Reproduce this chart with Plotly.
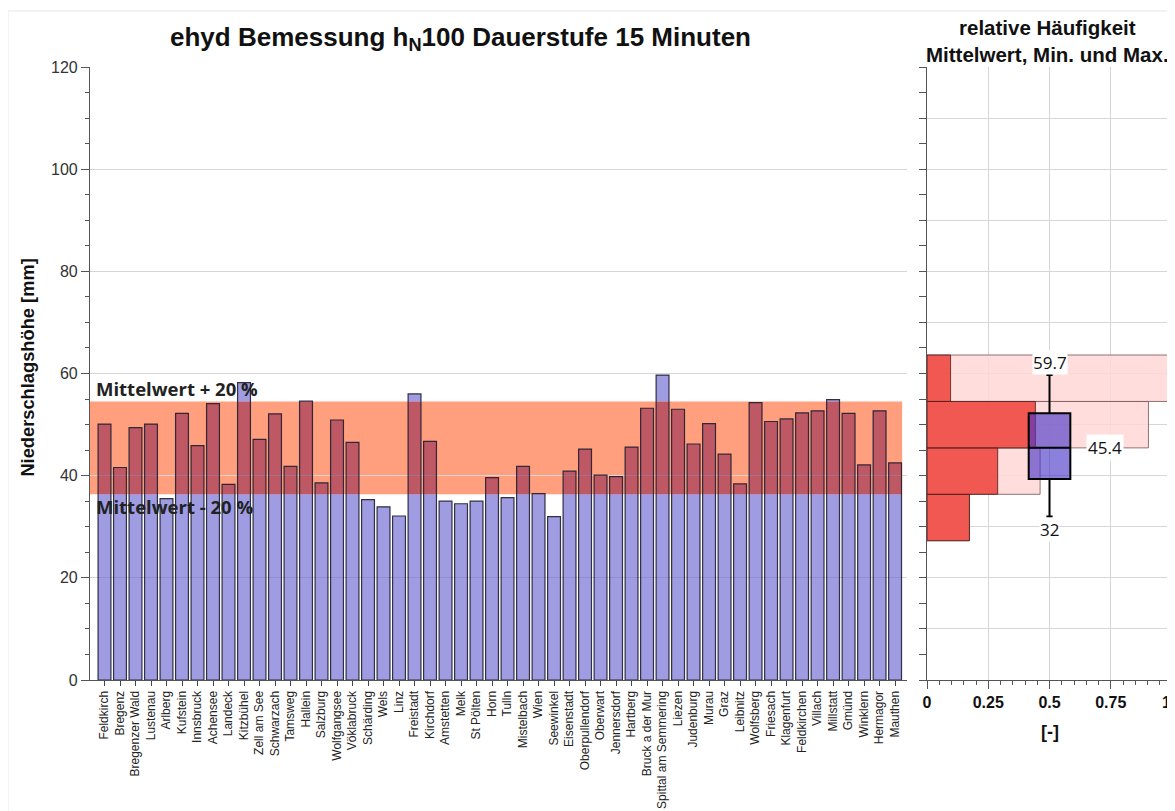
import numpy as np
import plotly.graph_objects as go

stations = ["Feldkirch", "Bregenz", "Bregenzer Wald", "Lustenau", "Arlberg", "Kufstein",
            "Innsbruck", "Achensee", "Landeck", "Kitzbühel", "Zell am See", "Schwarzach",
            "Tamsweg", "Hallein", "Salzburg", "Wolfgangsee", "Vöklabruck", "Schärding",
            "Wels", "Linz", "Freistadt", "Kirchdorf", "Amstetten", "Melk", "St Pölten",
            "Horn", "Tulln", "Mistelbach", "Wien", "Seewinkel", "Eisenstadt",
            "Oberpullendorf", "Oberwart", "Jennersdorf", "Hartberg", "Bruck a der Mur",
            "Spittal am Semmering", "Liezen", "Judenburg", "Murau", "Graz", "Leibnitz",
            "Wolfsberg", "Friesach", "Klagenfurt", "Feldkirchen", "Villach", "Millstatt",
            "Gmünd", "Winklern", "Hermagor", "Mauthen"]
hN100 = [50.1, 41.6, 49.4, 50.1, 35.5, 52.2, 45.9, 54.1, 38.3, 58.2,
         47.1, 52.1, 41.8, 54.6, 38.6, 50.9, 46.5, 35.3, 33.9, 32.1,
         56.0, 46.7, 35.0, 34.5, 35.0, 39.6, 35.7, 41.8, 36.5, 32.0,
         40.9, 45.2, 40.1, 39.8, 45.6, 53.2, 59.7, 53.0, 46.2, 50.2,
         44.2, 38.4, 54.3, 50.6, 51.1, 52.3, 52.7, 54.9, 52.2, 42.1,
         52.7, 42.5]
x2_ticks = [0, 0.25, 0.5, 0.75, 1]
x2_ticklabels = ["0", "0.25", "0.5", "0.75", "1"]

v = np.array(hN100)
mean = v.mean()
lo, hi = 0.8 * mean, 1.2 * mean
vmin, vmax = v.min(), v.max()
q1, q3 = np.percentile(v, 25), np.percentile(v, 75)

# histogram with bin width = 20 % of mean
edges = mean * np.array([0.6, 0.8, 1.0, 1.2, 1.4])
counts, _ = np.histogram(v, bins=edges)
rel = counts / counts.sum()
cum = np.cumsum(rel)
centers = (edges[:-1] + edges[1:]) / 2
bw = edges[1] - edges[0]

FONT = "Liberation Sans, Arial, sans-serif"
fig = go.Figure()

seg1 = np.minimum(v, lo)
seg2 = np.clip(v, lo, hi) - lo
seg3 = np.maximum(v - hi, 0)
BW = 0.83
BLUE = "rgba(105,100,210,0.64)"
fig.add_trace(go.Bar(x=stations, y=seg1, base=0, width=BW,
                     marker=dict(color=BLUE, line_width=0),
                     xaxis="x", yaxis="y", hoverinfo="skip"))
fig.add_trace(go.Bar(x=stations, y=seg2, base=lo, width=BW,
                     marker=dict(color="rgba(150,45,85,0.62)", line_width=0),
                     xaxis="x", yaxis="y", hoverinfo="skip"))
fig.add_trace(go.Bar(x=stations, y=seg3, base=hi, width=BW,
                     marker=dict(color=BLUE, line_width=0),
                     xaxis="x", yaxis="y", hoverinfo="skip"))
fig.add_trace(go.Bar(x=stations, y=v, base=0, width=BW,
                     marker=dict(color="rgba(0,0,0,0)",
                                 line=dict(color="rgba(30,30,50,0.9)", width=1.2)),
                     xaxis="x", yaxis="y"))

# right panel
fig.add_trace(go.Bar(y=centers, x=cum, orientation="h", width=bw,
                     marker=dict(color="rgba(255,215,215,0.85)",
                                 line=dict(color="rgba(120,80,80,0.8)", width=1)),
                     xaxis="x2", yaxis="y2"))
fig.add_trace(go.Bar(y=centers, x=rel, orientation="h", width=bw,
                     marker=dict(color="rgba(238,70,62,0.88)",
                                 line=dict(color="rgba(70,30,30,0.8)", width=1)),
                     xaxis="x2", yaxis="y2"))
fig.add_trace(go.Box(x=[0.5], q1=[q1], median=[mean], q3=[q3],
                     lowerfence=[vmin], upperfence=[vmax], width=0.17,
                     whiskerwidth=0.15, fillcolor="rgba(70,50,200,0.62)",
                     line=dict(color="black", width=2), boxpoints=False,
                     xaxis="x2", yaxis="y2"))

fig.add_shape(type="rect", xref="x domain", yref="y", x0=0, x1=0.994, y0=lo, y1=hi,
              fillcolor="#ff9f7d", line_width=0, layer="below")
# outer frame
fig.add_shape(type="rect", xref="paper", yref="paper", x0=-0.0758, x1=1.01,
              y0=-0.35, y1=1.0914, line=dict(color="#e6e6e6", width=1),
              fillcolor="rgba(0,0,0,0)", layer="below")

OS = "Open Sans, sans-serif"
ann = []
ann.append(dict(text="<b>ehyd Bemessung h<sub>N</sub>100 Dauerstufe 15 Minuten</b>",
                x=0.342, y=1.047, xref="paper", yref="paper", showarrow=False,
                xanchor="center", yanchor="middle",
                font=dict(family=FONT, size=26, color="#111")))
ann.append(dict(text="<b>relative Häufigkeit<br>Mittelwert, Min. und Max.</b>",
                x=0.8845, y=1.042, xref="paper", yref="paper", showarrow=False,
                xanchor="center", yanchor="middle",
                font=dict(family=FONT, size=20.5, color="#111")))
ann.append(dict(text="<b>Niederschlagshöhe [mm]</b>", textangle=-90,
                x=-0.058, y=0.51, xref="paper", yref="paper", showarrow=False,
                xanchor="center", yanchor="middle",
                font=dict(family=FONT, size=18.3, color="#111")))
ann.append(dict(text="<b>[-]</b>", x=0.5, y=-0.085, xref="x2", yref="paper",
                xanchor="center", yanchor="middle",
                showarrow=False, font=dict(family=FONT, size=18, color="#111")))
ann.append(dict(text="<b>Mittelwert + 20 %</b>", x=0.005, y=hi, xref="x domain", yref="y",
                xanchor="left", yanchor="bottom", showarrow=False, yshift=-2,
                font=dict(family=OS, size=18.5, color="#222")))
ann.append(dict(text="<b>Mittelwert - 20 %</b>", x=0.005, y=lo, xref="x domain", yref="y",
                xanchor="left", yanchor="top", showarrow=False, yshift=2,
                font=dict(family=OS, size=18.5, color="#222")))
ann.append(dict(text=f"{vmax:.1f}", x=0.5, y=vmax, xref="x2", yref="y2",
                yanchor="bottom", showarrow=False, bgcolor="white", borderpad=0,
                font=dict(family=OS, size=17, color="#111")))
ann.append(dict(text=f"{mean:.1f}", x=0.727, y=mean, xref="x2", yref="y2",
                showarrow=False, bgcolor="white", borderpad=1,
                font=dict(family=OS, size=17, color="#111")))
ann.append(dict(text=f"{vmin:g}", x=0.5, y=vmin, xref="x2", yref="y2",
                yanchor="top", showarrow=False, bgcolor="white", borderpad=0,
                font=dict(family=OS, size=17, color="#111")))
# last tick label of the right x axis, kept inside the visible page
ann.append(dict(text=f"<b>{x2_ticklabels[-1]}</b>", x=x2_ticks[-1], y=-0.037,
                xref="x2", yref="paper", xanchor="right", yanchor="middle",
                showarrow=False, xshift=1,
                font=dict(family=FONT, size=16, color="#111")))

# page body has an 8px margin: figure is offset by (8, 8) in the screenshot
fig.update_layout(
    width=1167, height=803,
    margin=dict(l=82, r=3, t=59, b=131, autoexpand=False),
    paper_bgcolor="white", plot_bgcolor="rgba(0,0,0,0)",
    barmode="overlay", showlegend=False,
    annotations=ann,
    font=dict(family=FONT, color="#222"),
    xaxis=dict(domain=[0, 0.7551], type="category", range=[-0.935, 51.77],
               automargin=False, tickmode="array", tickvals=stations, ticktext=stations,
               tickangle=-90, tickfont=dict(family=FONT, size=12, color="#222"),
               ticks="outside", ticklen=5, tickcolor="#444",
               showline=True, linecolor="#555", linewidth=1.2, showgrid=False),
    yaxis=dict(range=[0, 120], tickvals=[0, 20, 40, 60, 80, 100, 120], automargin=False,
               tickfont=dict(family=FONT, size=16, color="#333"),
               ticks="outside", ticklen=8, tickcolor="#555",
               showline=True, linecolor="#555", linewidth=1.2,
               showgrid=True, gridcolor="#d6d6d6", gridwidth=1, zeroline=False,
               minor=dict(dtick=5, ticks="outside", ticklen=4, tickcolor="#555",
                          showgrid=False)),
    xaxis2=dict(domain=[0.7736, 1], anchor="y2", range=[0, 1], automargin=False,
                tickvals=x2_ticks, ticktext=x2_ticklabels[:-1] + [""],
                tickfont=dict(family=FONT, size=16, color="#111", weight="bold"),
                ticks="outside", ticklen=8, tickcolor="#555",
                showline=True, linecolor="#555", linewidth=1.2,
                showgrid=True, gridcolor="#d6d6d6", zeroline=False,
                minor=dict(dtick=0.05, ticks="outside", ticklen=4, tickcolor="#555",
                           showgrid=False)),
    yaxis2=dict(anchor="x2", range=[0, 120], dtick=10, showticklabels=False,
                automargin=False,
                ticks="outside", ticklen=7, tickcolor="#555",
                showline=True, linecolor="#555", linewidth=1.2,
                showgrid=True, gridcolor="#d6d6d6", zeroline=False,
                minor=dict(dtick=5, ticks="outside", ticklen=7, tickcolor="#555",
                           showgrid=False)),
)

fig.write_html("out.html")
